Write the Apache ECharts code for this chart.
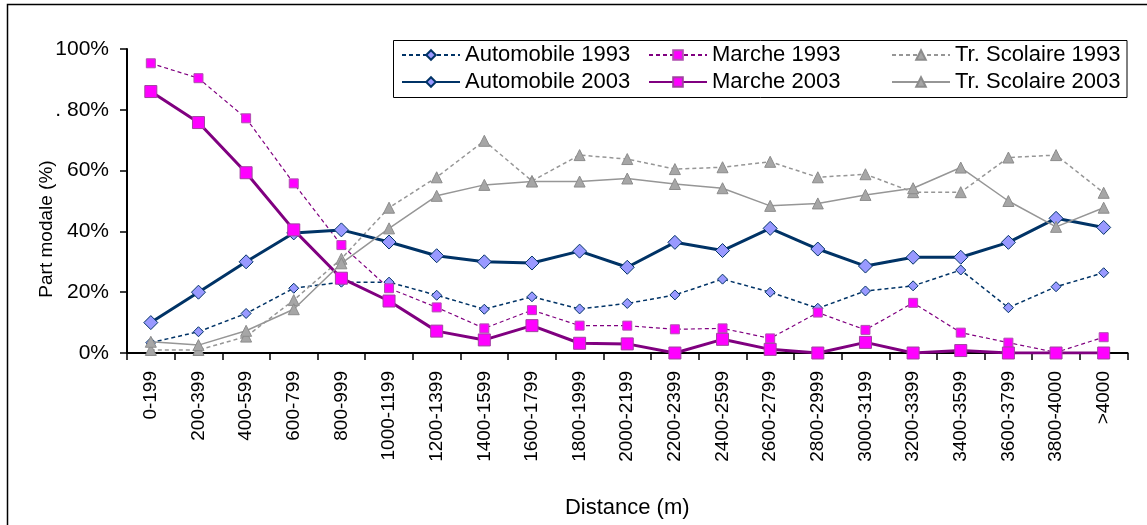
<!DOCTYPE html>
<html>
<head>
<meta charset="utf-8">
<script src="https://cdn.jsdelivr.net/npm/echarts@6/dist/echarts.min.js"></script>
<style>
  html, body { margin: 0; padding: 0; background: #fff; }
  #chart { width: 1147px; height: 525px; }
</style>
</head>
<body>
<div id="chart"></div>
<script>
// Distance classes (m)
const categories = ['0-199','200-399','400-599','600-799','800-999','1000-1199','1200-1399',
  '1400-1599','1600-1799','1800-1999','2000-2199','2200-2399','2400-2599','2600-2799',
  '2800-2999','3000-3199','3200-3399','3400-3599','3600-3799','3800-4000','>4000'];

// Modal share (%) per distance class
const auto1993 = [3.4, 7, 13, 21.3, 23.3, 23.3, 19, 14.4, 18.5, 14.5, 16.3, 19.1, 24.3, 20, 14.7, 20.4, 22.1, 27.3, 14.9, 21.8, 26.4];
const marche1993 = [95.3, 90.4, 77.2, 55.8, 35.5, 21.3, 15, 8.1, 14.1, 9, 9, 7.8, 8.1, 4.8, 13.3, 7.6, 16.5, 6.7, 3.4, 0.2, 5.2];
const scol1993 = [1, 1, 5.4, 17.4, 31, 47.8, 57.8, 69.8, 56.6, 65.1, 63.8, 60.5, 61.1, 62.9, 57.8, 58.8, 52.9, 52.9, 64.3, 65.1, 52.7];
const auto2003 = [10, 20, 30, 39.5, 40.5, 36.5, 32, 30, 29.6, 33.5, 28.2, 36.4, 33.7, 41, 34.2, 28.6, 31.5, 31.5, 36.4, 44.3, 41.3];
const marche2003 = [86, 75.8, 59.3, 40.5, 24.6, 17.1, 7.2, 4.3, 9, 3.2, 3, 0, 4.5, 1.2, 0, 3.5, 0, 0.8, 0, 0, 0];
const scol2003 = [3.7, 2.6, 7.3, 14.4, 29.5, 41, 51.7, 55.3, 56.4, 56.4, 57.4, 55.6, 54.2, 48.4, 49.2, 52, 54.2, 61, 50, 41.5, 47.8];

const yTicks = [0, 20, 40, 60, 80, 100];

const FONT = '"Liberation Sans", Arial, sans-serif';
const NAVY = '#003366', LILAC = '#9999FF';
const PURPLE = '#800080', MAGENTA = '#FF00FF';
const GREY = '#969696', GREY_FILL = '#A6A6A6';

const chart = echarts.init(document.getElementById('chart'), null, { renderer: 'canvas' });

function lineSeries(name, data, opts) {
  return {
    name, type: 'line', data,
    symbol: opts.symbol, symbolSize: opts.size,
    lineStyle: { color: opts.line, width: opts.width, type: opts.dash ? [4, 3] : 'solid' },
    itemStyle: { color: opts.fill, borderColor: opts.border, borderWidth: 1 },
    emphasis: { disabled: true },
    z: opts.z
  };
}

const legendCommon = {
  orient: 'vertical', itemWidth: 58, itemHeight: 12, itemGap: 5,
  textStyle: { fontFamily: FONT, fontSize: 22, color: '#000', padding: [0, 0, 0, 0] },
  selectedMode: false, padding: 0
};

chart.setOption({
  animation: false,
  backgroundColor: '#fff',
  textStyle: { fontFamily: FONT },
  grid: { left: 127, right: 19.5, top: 49, bottom: 172, containLabel: false },
  legend: [
    Object.assign({ left: 401, top: 44, data: ['Automobile 1993', 'Automobile 2003'] }, legendCommon),
    Object.assign({ left: 648, top: 44, data: ['Marche 1993', 'Marche 2003'] }, legendCommon),
    Object.assign({ left: 891, top: 44, data: ['Tr. Scolaire 1993', 'Tr. Scolaire 2003'] }, legendCommon)
  ],
  xAxis: {
    type: 'category', data: categories, boundaryGap: true,
    name: 'Distance (m)', nameLocation: 'middle', nameGap: 144,
    nameTextStyle: { fontFamily: FONT, fontSize: 22, color: '#000' },
    axisLine: { lineStyle: { color: '#000', width: 2 } },
    axisTick: { show: true, alignWithLabel: false, length: 7, lineStyle: { color: '#000', width: 1.5 } },
    axisLabel: { rotate: 90, interval: 0, margin: 18, fontFamily: FONT, fontSize: 19, color: '#000' },
    splitLine: { show: false }
  },
  yAxis: {
    type: 'value', min: 0, max: 100, interval: 20,
    axisLine: { show: true, lineStyle: { color: '#000', width: 2 } },
    axisTick: { show: true, length: 7, lineStyle: { color: '#000', width: 1.5 } },
    axisLabel: {
      margin: 18, fontFamily: FONT, fontSize: 21, color: '#000',
      formatter: v => (v === 80 ? '. ' : '') + v + '%'
    },
    splitLine: { show: false }
  },
  graphic: [
    { type: 'rect', shape: { x: 7.5, y: 4.5, width: 1160, height: 560 }, style: { fill: 'none', stroke: '#000', lineWidth: 1.5 }, z: -1, silent: true },
    { type: 'rect', shape: { x: 393.5, y: 40.5, width: 733.5, height: 57 }, style: { fill: '#fff', stroke: '#000', lineWidth: 1 }, z: 0, silent: true },
    { type: 'text', x: 47, y: 229, rotation: Math.PI / 2,
      style: { text: 'Part modale (%)', font: '19px ' + FONT, fill: '#000', align: 'center', verticalAlign: 'middle' }, silent: true }
  ],
  series: [
    lineSeries('Automobile 1993', auto1993, { symbol: 'diamond', size: 10, line: NAVY, width: 1.5, dash: true, fill: LILAC, border: NAVY, z: 2 }),
    lineSeries('Marche 1993', marche1993, { symbol: 'rect', size: 9, line: PURPLE, width: 1.2, dash: true, fill: MAGENTA, border: '#B050B0', z: 2 }),
    lineSeries('Tr. Scolaire 1993', scol1993, { symbol: 'triangle', size: 11, line: GREY, width: 1.5, dash: true, fill: GREY_FILL, border: '#8C8C8C', z: 2 }),
    lineSeries('Automobile 2003', auto2003, { symbol: 'diamond', size: 14, line: NAVY, width: 3, dash: false, fill: LILAC, border: NAVY, z: 3 }),
    lineSeries('Marche 2003', marche2003, { symbol: 'rect', size: 12, line: PURPLE, width: 3, dash: false, fill: MAGENTA, border: '#A040A0', z: 3 }),
    lineSeries('Tr. Scolaire 2003', scol2003, { symbol: 'triangle', size: 11, line: GREY, width: 1.5, dash: false, fill: GREY_FILL, border: '#8C8C8C', z: 3 })
  ]
});
</script>
</body>
</html>
